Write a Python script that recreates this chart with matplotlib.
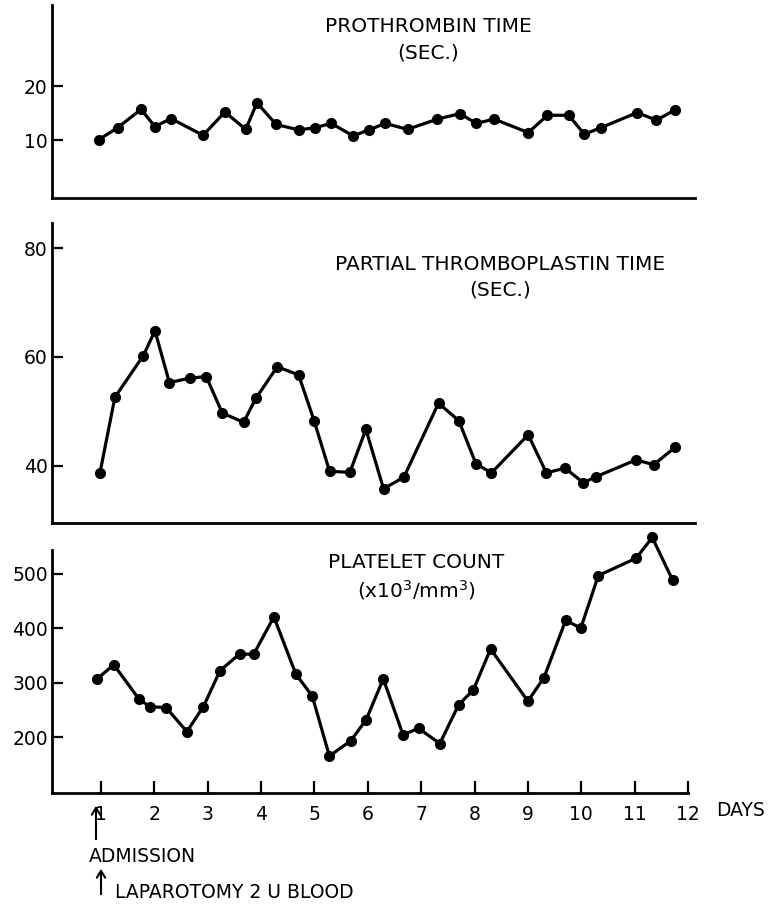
import matplotlib
matplotlib.use("Agg")
import matplotlib.pyplot as plt
from matplotlib.patches import FancyArrowPatch

plt.rcParams['font.family'] = ['DejaVu Sans']

# ---------------- data ----------------
pt_days = [0.96, 1.31, 1.75, 2.01, 2.31, 2.91, 3.32, 3.71, 3.92, 4.28, 4.70, 5.01,
           5.31, 5.72, 6.02, 6.32, 6.74, 7.30, 7.72, 8.03, 8.36, 9.00, 9.36, 9.76,
           10.05, 10.36, 11.04, 11.40, 11.75]
pt_vals = [10.1, 12.3, 15.7, 12.5, 14.0, 10.9, 15.2, 12.0, 16.9, 12.9, 11.9, 12.3,
           13.1, 10.8, 11.9, 13.1, 12.0, 13.9, 14.9, 13.1, 13.9, 11.4, 14.6, 14.6,
           11.1, 12.3, 15.1, 13.7, 15.6]

ptt_days = [0.98, 1.26, 1.79, 2.01, 2.28, 2.66, 2.97, 3.27, 3.67, 3.90, 4.30, 4.70,
            4.99, 5.28, 5.66, 5.96, 6.29, 6.67, 7.32, 7.70, 8.02, 8.31, 9.00, 9.34,
            9.69, 10.03, 10.27, 11.02, 11.35, 11.75]
ptt_vals = [38.7, 52.6, 60.2, 64.8, 55.3, 56.1, 56.4, 49.7, 48.0, 52.4, 58.2, 56.7,
            48.3, 39.0, 38.8, 46.7, 35.8, 37.9, 51.5, 48.3, 40.4, 38.7, 45.7, 38.7,
            39.6, 36.9, 38.0, 41.1, 40.2, 43.4]

plt_days = [0.93, 1.24, 1.71, 1.91, 2.22, 2.61, 2.92, 3.23, 3.60, 3.86, 4.24, 4.65,
            4.96, 5.28, 5.68, 5.97, 6.29, 6.66, 6.95, 7.35, 7.70, 7.98, 8.30, 9.00,
            9.30, 9.71, 9.99, 10.32, 11.03, 11.33, 11.71]
plt_vals = [307, 333, 270, 256, 254, 210, 256, 322, 353, 352, 421, 316, 275, 165,
            193, 232, 307, 204, 216, 188, 259, 287, 362, 266, 309, 415, 400, 497,
            529, 567, 489]

pt_ticks = [10, 20]
ptt_ticks = [40, 60, 80]
plt_ticks = [200, 300, 400, 500]
day_ticks = list(range(1, 13))

# ---------------- figure ----------------
W, H = 780, 909
fig = plt.figure(figsize=(W / 100, H / 100), dpi=100)


def fx(px):
    return px / W


def fy(py):
    return 1 - py / H


def make_ax(left, right, top, bottom):
    return fig.add_axes([fx(left), fy(bottom), fx(right) - fx(left), fy(top) - fy(bottom)])


LW_SPINE = 2.0
LW_DATA = 2.3
MS = 7
FS = 13.5
FS_T = 14.5

ax1 = make_ax(52, 695, 5, 198)
ax2 = make_ax(52, 695, 223, 523)
ax3 = make_ax(52, 688, 550, 793)

x_left = 0.082
px_per_day = 53.4
for ax, right_px in ((ax1, 695), (ax2, 695), (ax3, 688)):
    ax.set_xlim(x_left, x_left + (right_px - 52) / px_per_day)
    for s in ('top', 'right'):
        ax.spines[s].set_visible(False)
    for s in ('left', 'bottom'):
        ax.spines[s].set_linewidth(LW_SPINE)
    ax.tick_params(axis='y', direction='in', length=8, width=1.6, labelsize=FS, pad=3)
    ax.set_facecolor('none')

ax1.set_ylim(-0.7, 35)
ax1.set_yticks(pt_ticks)
ax1.set_xticks([])
ax1.plot(pt_days, pt_vals, color='black', lw=LW_DATA, marker='o', ms=MS, clip_on=False)

ax2.set_ylim(29.5, 84.6)
ax2.set_yticks(ptt_ticks)
ax2.set_xticks([])
ax2.plot(ptt_days, ptt_vals, color='black', lw=LW_DATA, marker='o', ms=MS, clip_on=False)

ax3.set_ylim(97, 544)
ax3.set_yticks(plt_ticks)
ax3.set_xticks(day_ticks)
ax3.tick_params(axis='x', direction='in', length=9, width=1.6, labelsize=FS, pad=9)
ax3.plot(plt_days, plt_vals, color='black', lw=LW_DATA, marker='o', ms=MS, clip_on=False)


def ftext(px, py, s, size=FS_T, **kw):
    fig.text(fx(px), fy(py), s, fontsize=size, va='center', **kw)


ftext(428, 27, "PROTHROMBIN TIME", ha='center')
ftext(428, 53, "(SEC.)", ha='center')
ftext(500, 264, "PARTIAL THROMBOPLASTIN TIME", ha='center')
ftext(500, 290, "(SEC.)", ha='center')
ftext(416, 563, "PLATELET COUNT", ha='center')
ftext(416, 590, r"(x10$^3$/mm$^3$)", ha='center')
ftext(716, 811, "DAYS", ha='left', size=FS)

# annotations below axis
ftext(89, 857, "ADMISSION", ha='left', size=FS)
ftext(115, 893, "LAPAROTOMY 2 U BLOOD", ha='left', size=FS)
for x0, y0, y1 in ((96, 842, 803), (101, 897, 866)):
    fig.patches.append(FancyArrowPatch(
        (fx(x0), fy(y0)), (fx(x0), fy(y1)), transform=fig.transFigure, figure=fig,
        arrowstyle='->,head_length=5,head_width=3', lw=1.5, color='black'))

fig.savefig("out.png", dpi=100, facecolor='white')
